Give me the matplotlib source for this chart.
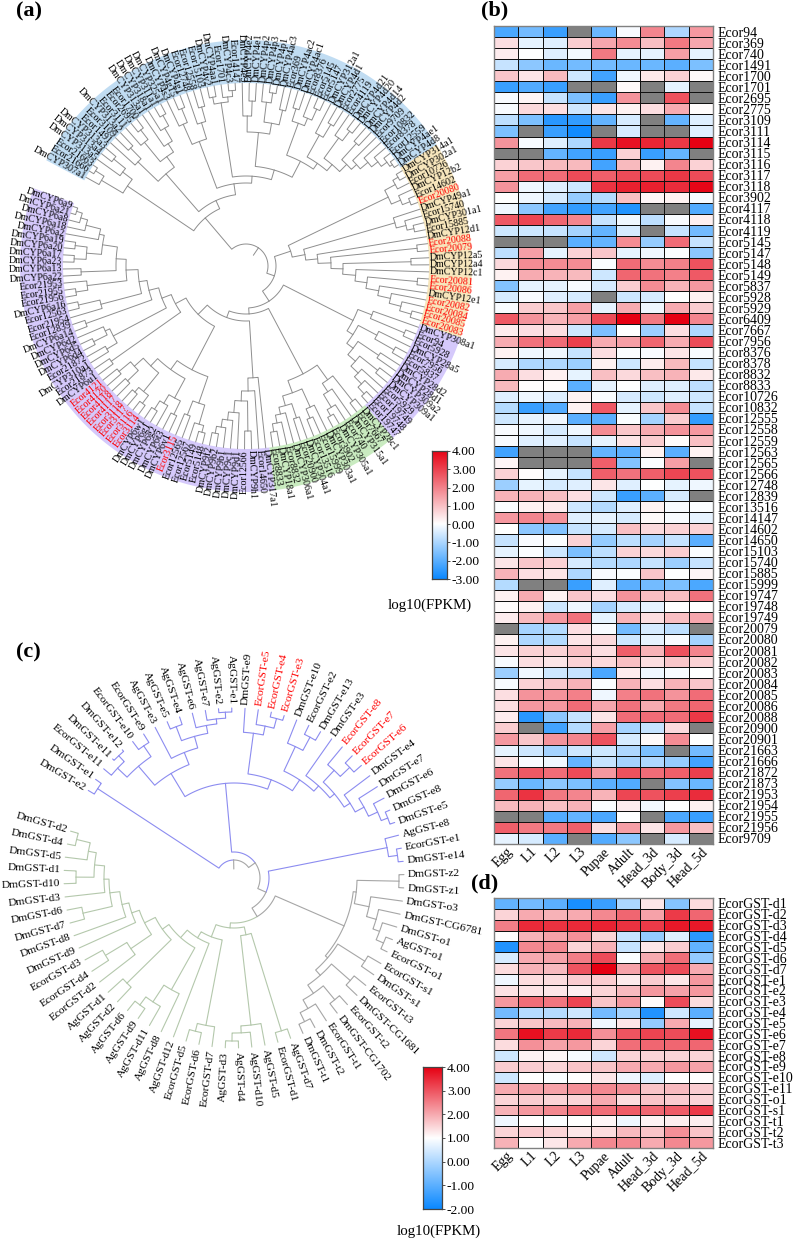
"""Phylogenetic trees of CYP / GST genes with their expression heatmaps."""
import numpy as np
import matplotlib
matplotlib.use('Agg')
import matplotlib.pyplot as plt
from matplotlib.collections import LineCollection
from matplotlib.colors import LinearSegmentedColormap, Normalize

plt.rcParams['font.family'] = ['Liberation Serif', 'DejaVu Serif']

N = np.nan
STAGES = ['Egg', 'L1', 'L2', 'L3', 'Pupae', 'Adult', 'Head_3d', 'Body_3d', 'Head_5d']

CYP_GENES = [
    'Ecor94', 'Ecor369', 'Ecor740', 'Ecor1491', 'Ecor1700', 'Ecor1701', 'Ecor2695', 'Ecor2775',
    'Ecor3109', 'Ecor3111', 'Ecor3114', 'Ecor3115', 'Ecor3116', 'Ecor3117', 'Ecor3118', 'Ecor3902',
    'Ecor4117', 'Ecor4118', 'Ecor4119', 'Ecor5145', 'Ecor5147', 'Ecor5148', 'Ecor5149', 'Ecor5837',
    'Ecor5928', 'Ecor5929', 'Ecor6409', 'Ecor7667', 'Ecor7956', 'Ecor8376', 'Ecor8378', 'Ecor8832',
    'Ecor8833', 'Ecor10726', 'Ecor10832', 'Ecor12555', 'Ecor12558', 'Ecor12559', 'Ecor12563',
    'Ecor12565', 'Ecor12566', 'Ecor12748', 'Ecor12839', 'Ecor13516', 'Ecor14147', 'Ecor14602',
    'Ecor14650', 'Ecor15103', 'Ecor15740', 'Ecor15885', 'Ecor15999', 'Ecor19747', 'Ecor19748',
    'Ecor19749', 'Ecor20079', 'Ecor20080', 'Ecor20081', 'Ecor20082', 'Ecor20083', 'Ecor20084',
    'Ecor20085', 'Ecor20086', 'Ecor20088', 'Ecor20900', 'Ecor20901', 'Ecor21663', 'Ecor21666',
    'Ecor21872', 'Ecor21873', 'Ecor21953', 'Ecor21954', 'Ecor21955', 'Ecor21956', 'Ecor9709',
]
CYP_FPKM = [
    [-2.2, -1.7, -2.4, N, -1.8, -0.1, 1.9, -1.0, 1.6],
    [0.5, -0.3, -0.4, 0.8, 1.4, 1.8, 1.0, 2.1, 1.4],
    [0.3, 0, -0.4, -0.15, 2.1, -0.3, -0.3, 1.5, -0.3],
    [-0.7, -1.4, -1.8, -1.7, -1.7, -1.8, -1.8, -2.0, -1.6],
    [0.9, 0.4, 1.1, -0.6, -2.3, -0.2, 0.35, 0.7, 0.1],
    [-2.4, -2.1, -2.4, N, N, 0.1, N, -0.3, N],
    [-0.1, 0.15, -0.7, -1.6, -2.4, 1.7, N, 2.7, N],
    [-0.1, 0.6, 0.5, -0.6, 0.4, 0.2, 0.5, 1.3, 0.05],
    [-0.8, -1.6, -2.6, -2.5, -1.9, -0.5, N, -1.9, -0.4],
    [-1.6, N, -2.4, -2.9, N, -0.5, N, N, -0.4],
    [1.7, -0.1, -0.4, -1.0, 3.1, 3.7, 3.4, 3.1, 4.0],
    [N, N, -1.9, -2.3, -2.4, 0.7, -2.4, -1.9, N],
    [0.7, 0.9, 1.1, 1.1, -2.3, 1.1, 0.2, 1.9, 0.7],
    [1.5, 2.3, 2.3, 2.8, 2.5, 2.8, 2.8, 3.1, 2.8],
    [1.7, -0.2, -0.4, -0.6, 3.2, 3.5, 3.5, 3.3, 3.9],
    [0, -0.2, -0.5, -1.3, -0.9, 1.0, 0.15, 0.2, -0.1],
    [-0.2, -1.4, -2.3, -2.5, -2.3, -2.7, N, N, -2.1],
    [2.6, 2.9, 2.4, 1.9, -0.7, -0.2, -0.8, -0.1, 0.25],
    [-0.6, -0.6, -0.7, -1.1, -1.9, -0.5, N, -0.7, -1.7],
    [N, N, N, -2.0, -1.9, 1.8, -1.3, 2.3, -0.7],
    [-0.8, 1.5, -0.3, 0.7, 0.9, -0.3, -0.2, -0.05, -1.4],
    [0.6, 1.8, 1.8, 1.8, -0.05, 2.3, 1.8, 2.0, 2.7],
    [0.2, 1.3, 1.2, 1.1, -0.6, 2.4, 2.2, 2.0, 2.6],
    [-1.5, -0.3, -0.3, -0.1, -0.5, 0.8, 1.8, 1.2, 1.6],
    [-0.5, -0.1, -0.4, -0.5, N, -0.6, -0.5, 0.0, 0.2],
    [-0.1, 0.8, 0.9, 1.5, -0.3, 1.3, -0.2, 1.3, 0.8],
    [2.6, 1.7, 1.2, 1.5, 2.8, 4, 2.1, 4, 1.9],
    [0.3, 0.5, 0.5, -0.6, -1.6, 0, -1.2, 0.5, -1.0],
    [1.3, 2.2, 2.3, 3.0, 1.3, 1.5, 2.4, 1.3, 2.8],
    [0.2, -0.2, -0.2, -0.7, 0.5, -0.05, -0.1, 0.4, -0.1],
    [-0.5, -1, -1, -1.2, 0.2, -0.6, 0.3, 1.1, -0.7],
    [1.3, 0.5, 0.25, -0.3, 1.0, 0.6, 1.0, 1.2, 0.35],
    [1.1, 0.05, 0.05, -2.0, -0.3, 0, -0.4, -0.4, -0.8],
    [-0.4, -0.2, -0.4, 0.2, -0.05, -0.5, -0.6, -0.4, -0.6],
    [-0.9, -2.4, -2.1, 0.2, 2.6, -0.3, 0.9, 1.8, -0.7],
    [-0.6, -0.3, -0.2, -2.0, -2.0, -0.05, -1.1, 0.8, -2.5],
    [-0.1, -0.2, -0.5, -0.2, 1.8, 0.9, 1.3, 1.7, 1.6],
    [-0.1, -0.4, -0.4, -0.7, -0.3, 0.4, 0.8, 0.05, 1.0],
    [-2.3, N, N, N, -1.9, -2.0, 0.2, -2.0, 0.2],
    [0.15, N, N, N, 2.5, -1.5, -0.05, 1.5, N],
    [0.7, 0.05, -0.3, -0.7, 2.5, 2.2, 2.5, 2.9, 2.7],
    [-1.2, -0.3, -0.5, -0.4, 0.4, -0.4, 0, -0.3, -0.2],
    [1.2, 1.2, 1.0, 0.5, -0.6, -2.4, -2.0, -0.5, N],
    [-0.05, 0.2, 0.3, -0.6, -0.9, -0.4, 0.2, -0.1, -0.05],
    [1.6, 1.9, 1.7, -0.4, -0.3, -0.5, 0.1, -0.1, -0.3],
    [0, -1.4, -1.5, -0.7, -0.5, 1.0, 0.6, 0.7, 0.7],
    [-0.7, -0.1, -0.05, 0.7, -1.3, -0.8, -1.1, -0.7, -2.0],
    [-0.3, -0.05, -0.6, -1.6, -0.8, 0.7, 0.6, 0.8, -0.05],
    [0.4, 0.9, 0.7, -0.5, -0.9, -1.0, -0.7, -1.2, -0.7],
    [1.2, 0.5, 0.4, -1.0, -0.1, -0.05, 0.9, 0.0, 0.15],
    [-0.9, N, N, -2.4, -0.4, -2.0, -1.7, -1.6, -2.2],
    [0.2, 1.3, 0.2, 0.9, 0.5, 1.7, 1.0, 1.0, 2.2],
    [0.05, 0.2, -0.6, -0.2, -1.1, -0.5, -0.3, 0, 0],
    [0.3, 1.1, 1.6, 2.2, -0.3, 1.2, 0.5, 1.0, 1.4],
    [N, -1.1, -0.9, 0.5, -0.1, -1.7, -0.5, -0.8, N],
    [0.2, -1.0, -0.9, 0.4, 0.6, -0.6, -0.3, -0.1, -1.1],
    [0.4, 0.7, 0.7, 1.0, 0.5, 2.5, 1.2, 2.7, 1.9],
    [-0.1, 0.5, 0.4, 0.7, 0.6, 1.0, 0.5, 0.9, 0.7],
    [-1.2, -0.2, -0.6, -0.7, -2.2, 0.3, -0.2, -0.1, 0],
    [-0.1, 0.7, 0.9, 1.2, -0.05, 1.2, 0.5, 1.2, 0.9],
    [0.5, 1.7, 1.7, 2.0, -0.2, 2.0, 2.2, 1.7, 2.3],
    [0.5, 1.6, 1.6, 2.3, 1.4, 2.2, 1.3, 2.1, 2.4],
    [0.3, -2.6, -1.4, -0.7, 0.4, 2.3, 2.3, 2.3, 3.1],
    [0.8, N, -2.3, -0.9, 1.5, -1.1, -0.7, 0.6, N],
    [1.6, 0.9, 1.7, 1.9, 2.7, -0.5, 0.1, 1.8, 0],
    [-0.3, -0.6, -1.1, -0.6, -0.6, -1.0, -1.6, N, -1.7],
    [0.4, -0.1, -0.2, -1.9, -0.7, -1.1, -1.0, -1.3, -2.3],
    [2.2, 2.6, 2.3, 2.8, 1.6, 2.7, 2.3, 2.5, 3.0],
    [-1.3, -1.8, -1.4, -1.6, -2.0, -2.1, N, -1.5, -1.8],
    [2.4, 3.2, 2.1, 1.9, 1.2, 2.9, 2.7, 3.0, 3.3],
    [1.1, 1.2, 1.0, 1.2, -0.05, 0.3, -0.15, 0, 0.2],
    [N, N, -2.1, -1.9, -2.2, 0, N, -2.2, -2.4],
    [2.5, 2.1, 2.1, 2.5, 0.5, 1.5, 0.4, 1.6, 1.0],
    [-0.3, -0.5, -2.0, N, -2.1, -1.4, N, -0.5, N],
]

GST_GENES = [
    'EcorGST-d1', 'EcorGST-d2', 'EcorGST-d3', 'EcorGST-d4', 'EcorGST-d5', 'EcorGST-d6', 'EcorGST-d7',
    'EcorGST-e1', 'EcorGST-e2', 'EcorGST-e3', 'EcorGST-e4', 'EcorGST-e5', 'EcorGST-e6', 'EcorGST-e7',
    'EcorGST-e8', 'EcorGST-e9', 'EcorGST-e10', 'EcorGST-e11', 'EcorGST-o1', 'EcorGST-s1',
    'EcorGST-t1', 'EcorGST-t2', 'EcorGST-t3',
]
GST_FPKM = [
    [-0.9, -0.7, -1.0, -1.8, -1.4, 0.0, 1.3, -0.5, 1.4],
    [1.5, 2.0, 1.9, 2.0, 2.4, 2.8, 2.1, 3.3, 2.8],
    [2.5, 3.5, 3.4, 3.5, 3.6, 3.4, 3.3, 3.7, 3.7],
    [1.0, 1.9, 2.1, 2.3, 1.5, 0.3, -0.3, 0.6, -1.6],
    [-1.7, 2.4, 2.4, 1.5, 1.9, 0.3, 1.3, 1.6, -0.9],
    [0.5, 2.0, 2.1, 2.5, 3.1, 0.95, 2.0, 2.7, -0.3],
    [1.4, 1.9, 1.8, 3.0, 4.0, 2.1, 3.0, 3.1, 2.0],
    [0.8, 1.4, 1.4, 1.6, 1.6, 1.25, 1.6, 1.3, 2.2],
    [1.35, 1.35, 1.3, 1.2, 1.5, 1.8, 2.2, 2.1, 2.2],
    [2.2, 2.7, 2.6, 3.2, 1.7, 2.2, 1.05, 3.1, 1.4],
    [-0.7, 0.1, 0.1, 0.4, -0.7, -0.1, -1.7, 0.4, -1.0],
    [1.5, 1.7, 1.8, 1.9, 0.8, 1.3, -0.3, 2.0, 0.7],
    [2.6, 3.8, 3.3, 3.5, 2.3, 3.0, 3.2, 3.1, 3.8],
    [1.4, 2.3, 2.1, 2.2, 1.5, 2.7, 2.8, 2.8, 2.8],
    [0.4, 1.15, 1.1, 0.9, 0.4, 1.5, 1.5, 1.5, 1.5],
    [1.6, 1.6, 1.5, 1.7, 1.7, 2.0, 2.0, 2.2, 2.1],
    [0.4, 1.0, 0.95, 1.0, 1.3, 0.8, 0.6, 1.0, 1.0],
    [2.0, 2.1, 2.1, 2.3, 2.4, 2.3, 1.7, 1.8, 1.6],
    [1.5, 1.6, 1.5, 1.5, 2.0, 1.4, 1.7, 1.6, 1.5],
    [1.9, 2.2, 2.4, 2.7, 2.7, 2.9, 2.8, 2.9, 3.3],
    [0.8, 1.0, 0.95, 1.0, 1.1, 0.8, 1.15, 1.2, 1.2],
    [1.5, 1.6, 1.5, 1.3, 1.4, 1.8, 1.7, 2.3, 1.7],
    [1.9, 1.0, 1.3, 2.0, 2.4, 2.4, 2.0, 2.4, 2.2],
]

# trees: (node depth, child, child, ...), a leaf is its gene name; children run clockwise
CYP_BLUE = (63,
    (143, (168, 'DmCYP307a1', (178, 'Ecor21666', 'Ecor21663')),
          (155, 'DmCYP313a5', (170, 'DmCYP313a4', 'DmCYP313a3'))),
    (72,
     (122, (150, 'Ecor1491', (165, 'Ecor3109', 'DmCYP313a2')),
           (135, (160, 'Ecor3111', (172, 'Ecor2695', 'Ecor1700')),
                 (145, 'DmCYP313a1', (160, 'DmCYP318a1', (172, 'DmCYP311a1', 'DmCYP325a1'))))),
     (83,
      (133, (155, 'DmCYP4s3', (170, 'DmCYP4g15', 'DmCYP4g1')),
            (150, 'Ecor12748', (165, 'Ecor12558', 'Ecor15103'))),
      (90,
       (165, (172, 'DmCYP4v2', 'DmCYP4aa1'), (170, 'Ecor1701', (176, 'DmCYP4c3', 'Ecor14147'))),
       (100,
        (134, (150, 'DmCYP4e3', (165, 'DmCYP4e2', 'DmCYP4e1')),
              (145, (165, 'DmCYP4p2', (175, 'DmCYP4p3', 'DmCYP4p1')), (160, 'DmCYP4ac3', 'Ecor369'))),
        (118, (152, (165, 'DmCYP4ac2', 'DmCYP4ac1'), (160, 'Ecor8376', (172, 'Ecor5145', 'Ecor5147'))),
              (125, (150, 'DmCYP312a1', (165, 'DmCYP4d1', 'Ecor2775')),
                    (133, (158, 'Ecor4119', (170, 'DmCYP4d21', 'DmCYP4d20')),
                          (143, (165, 'DmCYP4d14', 'DmCYP4d2'),
                                (150, 'Ecor9709', (160, 'Ecor10832', (168, 'Ecor8378',
                                      (175, 'Ecor12559', (178, 'DmCYP4ae1', 'DmCYP4d8'))))))))))))))
CYP_YELLOW = (47,
    (158, (170, (176, 'DmCYP314a1', 'DmCYP302a1'), 'Ecor10726'),
          (168, 'DmCYP12b2', (176, 'Ecor14602', 'Ecor20080'))),
    (60,
     (155, 'DmCYP49a1', (165, 'Ecor15740', (172, 'DmCYP301a1', 'Ecor15885'))),
     (72, 'DmCYP12d1',
      (85, (172, 'Ecor20088', 'Ecor20079'),
       (97, (165, 'DmCYP12a5', 'DmCYP12a4'),
        (110, 'DmCYP12c1',
         (122, (172, 'Ecor20081', 'Ecor20086'),
          (135, 'DmCYP12e1',
           (148, 'Ecor20082', (160, 'Ecor20084', (172, 'Ecor20085', 'Ecor20083')))))))))))
CYP_LILAC = (120,
    (135, 'DmCYP308a1', (172, 'Ecor94', 'Ecor5928')),
    (127, (148, 'DmCYP28a5', (170, 'Ecor7956', 'Ecor5837')),
          (135, (160, 'DmCYP28d2', 'DmCYP28d1'),
                (145, (168, 'DmCYP309a2', 'DmCYP309a1'),
                      (155, 'Ecor5929', (165, 'Ecor19749', (174, 'Ecor19748', 'Ecor19747')))))))
CYP_GREEN = (122,
    (140, (172, 'DmCYP28c1', 'Ecor7667'),
          (150, 'DmCYP315a1', (165, 'Ecor740', (172, 'DmCYP305a1', 'Ecor3902')))),
    (135, (155, 'DmCYP303a1', (165, 'Ecor15999', 'Ecor13516')),
          (145, (160, 'DmCYP304a1', 'Ecor20900'),
                (152, 'DmCYP306a1', (160, 'Ecor8832', (168, 'DmCYP18a1', 'Ecor8833'))))))
CYP_PURPLE = (55,
    (112, 'DmCYP317a1', (125, 'Ecor14650', (135, (165, 'DmCYP9h1', 'Ecor12566'),
        (147, 'DmCYP9d1', (155, 'DmCYP9c1', (163, 'DmCYP9b1', (170, 'DmCYP9b2', 'DmCYP9f2'))))))),
    (68,
     (117,
      (145, (165, (172, 'Ecor5148', 'Ecor5149'), 'Ecor12567'), (160, 'Ecor12565', 'Ecor3115')),
      (128,
       (150, (165, 'DmCYP6v1', 'DmCYP6t3'), (160, 'DmCYP6g2', (170, 'DmCYP6g1', 'DmCYP6w1'))),
       (138,
        (162, (172, 'Ecor3114', 'Ecor3116'), (168, 'Ecor3117', 'Ecor3118')),
        (150, (165, 'Ecor4117', 'Ecor4118'), (165, 'Ecor4120', 'Ecor4121'))))),
     (80, (165, 'DmCYP6u1', 'Ecor21873'),
      (90, (150, (162, 'DmCYP310a1', 'Ecor21872'), (155, (170, 'DmCYP6d4', 'DmCYP6d5'), 'DmCYP6d2')),
       (100, (170, 'DmCYP6a14', 'Ecor12839'),
        (108, (150, 'Ecor21954', (172, 'Ecor12563', 'DmCYP6a16')),
         (120, (160, (172, 'Ecor21956', 'Ecor21955'), 'Ecor21953'),
          (130, (165, 'DmCYP6a22', 'DmCYP6a13'),
           (145, (160, (172, 'DmCYP6a23', 'DmCYP6a17'), (172, 'DmCYP6a20', 'DmCYP6a19')),
            (150, 'DmCYP6a2', (165, 'DmCYP6a18', (172, 'DmCYP6a8', (178, 'DmCYP6a21', 'DmCYP6a9')))))))))))))
CYP_TREE = (22, CYP_BLUE, (30, CYP_YELLOW, (42, CYP_LILAC, (48, CYP_GREEN, CYP_PURPLE))))
CYP_CLADES = [(CYP_BLUE, '#c0dcf2'), (CYP_YELLOW, '#f7e6bc'), (CYP_LILAC, '#d5c9fb'),
              (CYP_GREEN, '#c9ebc0'), (CYP_PURPLE, '#d5c9fb')]
CYP_RED = ['Ecor20080', 'Ecor20088', 'Ecor20079', 'Ecor20081', 'Ecor20086', 'Ecor20082', 'Ecor20084',
           'Ecor20085', 'Ecor20083', 'Ecor3115', 'Ecor3114', 'Ecor3116', 'Ecor3117', 'Ecor3118',
           'Ecor4117', 'Ecor4118', 'Ecor4120', 'Ecor4121']

GST_EPSILON_A = (95,
    (122,
     (147, (160, 'EcorGST-e11', (168, 'DmGST-e11', 'DmGST-e12')), (160, 'EcorGST-e10', 'EcorGST-e9')),
     (135, 'AgGST-e3',
      (147, (162, 'AgGST-e5', 'AgGST-e4'),
       (155, 'AgGST-e6', (160, 'AgGST-e7', (166, 'AgGST-e2', 'AgGST-e1')))))),
    (105,
     (146, 'DmGST-e9', (155, 'EcorGST-e5', (165, 'EcorGST-e4', 'EcorGST-e3'))),
     (118,
      (145, 'DmGST-e10', (160, 'EcorGST-e2', 'DmGST-e13')),
      (125, 'DmGST-e3',
       (131,
        (147, 'EcorGST-e8', (160, 'EcorGST-e7', 'EcorGST-e6')),
        (138, 'DmGST-e4', (148, 'DmGST-e7', (158, 'DmGST-e6', (165, 'DmGST-e8', 'DmGST-e5')))))))))
GST_EPSILON_B = (163, 'DmGST-e2', 'DmGST-e1')
GST_EPSILON_C = (156, 'AgGST-e8', (165, 'EcorGST-e1', 'DmGST-e14'))
GST_OTHER = (120,
    (123, (165, 'DmGST-z2', 'DmGST-z1'),
     (138, 'DmGST-o3', (148, 'DmGST-CG6781', (155, 'DmGST-o1', (163, 'AgGST-o1', 'EcorGST-o1'))))),
    (123, (155, 'EcorGST-s1', 'DmGST-s1'),
     (130, (155, 'EcorGST-t3', 'DmGST-CG1681'),
      (140, (158, 'EcorGST-t2', 'DmGST-CG1702'),
       (150, 'EcorGST-t1', (160, 'DmGST-t2', 'DmGST-t1'))))))
GST_DELTA = (50,
    (58, (160, 'AgGST-d7', 'EcorGST-d1'),
     (148, 'AgGST-d5', (155, 'AgGST-d10', (163, 'AgGST-d4', 'AgGST-d3')))),
    (63,
     (150, 'EcorGST-d7', (158, 'EcorGST-d6', 'EcorGST-d5')),
     (70, 'AgGST-d12',
      (80, (128, 'AgGST-d8', (148, 'AgGST-d11', (158, 'AgGST-d9', 'AgGST-d6'))),
       (88, (150, 'AgGST-d2', 'AgGST-d1'),
        (100, (125, 'EcorGST-d2', (150, 'EcorGST-d4', 'EcorGST-d3')),
         (108, 'DmGST-d9',
          (115, 'DmGST-d8',
           (125, (155, 'DmGST-d7', 'DmGST-d6'),
            (130, 'DmGST-d3',
             (140, (158, 'DmGST-d10', 'DmGST-d1'),
              (148, 'DmGST-d5', (162, 'DmGST-d4', 'DmGST-d2')))))))))))))
GST_TREE = (18, GST_EPSILON_B, (26, GST_EPSILON_A, (35, GST_EPSILON_C, (45, GST_OTHER, GST_DELTA))))
GST_RED = ['EcorGST-e5', 'EcorGST-e4', 'EcorGST-e3', 'EcorGST-e8', 'EcorGST-e7', 'EcorGST-e6']

W, H = 796, 1240


def leaves(node):
    if isinstance(node, str):
        return [node]
    return [name for kid in node[1:] for name in leaves(kid)]


def polar(cx, cy, r, deg):
    t = np.radians(deg)
    return cx + r * np.cos(t), cy - r * np.sin(t)


def draw_tree(ax, tree, centre, r_leaf, start, stop, colour_of, lw=0.7):
    names = leaves(tree)
    angles = dict(zip(names, np.linspace(start, stop, len(names))))
    segs, cols = [], []

    def place(node):
        if isinstance(node, str):
            return angles[node], r_leaf
        r = node[0]
        pos = [place(kid) for kid in node[1:]]
        a = (pos[0][0] + pos[-1][0]) / 2
        for kid, (ak, rk) in zip(node[1:], pos):
            arc = np.linspace(a, ak, 16)
            line = [polar(*centre, r, x) for x in arc] + [polar(*centre, rk, ak)]
            segs.append(line)
            cols.append(colour_of(kid))
        return a, r

    a0, r0 = place(tree)
    segs.append([polar(*centre, r0, a0), polar(*centre, r0 - 9, a0)])
    cols.append(colour_of(tree))
    ax.add_collection(LineCollection(segs, colors=cols, linewidths=lw, zorder=2, capstyle='round'))
    return angles


def draw_labels(ax, angles, centre, r_text, red, size):
    for name, a in angles.items():
        x, y = polar(*centre, r_text, a)
        flip = np.cos(np.radians(a)) < 0
        ax.text(x, y, name, rotation=a + 180 if flip else a, rotation_mode='anchor',
                ha='right' if flip else 'left', va='center', fontsize=size,
                color='#ff0000' if name in red else 'black', zorder=3)


def draw_heat(rect, data, genes, cmap, norm):
    ax = fig.add_axes([rect[0] / W, 1 - rect[3] / H, (rect[2] - rect[0]) / W, (rect[3] - rect[1]) / H])
    arr = np.ma.masked_invalid(np.array(data, dtype=float))
    ax.set_facecolor('#808080')
    ax.pcolormesh(arr, cmap=cmap, norm=norm, edgecolors='#111111', linewidth=0.7)
    ax.invert_yaxis()
    ax.yaxis.tick_right()
    ax.set_yticks(np.arange(len(genes)) + 0.5, genes, fontsize=10)
    ax.set_xticks(np.arange(len(STAGES)) + 0.5, STAGES, fontsize=10, rotation=45,
                  ha='right', va='top', rotation_mode='anchor')
    ax.tick_params(axis='y', length=0, pad=3.5)
    ax.tick_params(axis='x', length=0, pad=1)
    for s in ax.spines.values():
        s.set_color('#808080')
        s.set_linewidth(1)
    return ax


def draw_bar(rect, cmap, vmin, vmax, ticks, label_xy):
    ax = fig.add_axes([rect[0] / W, 1 - rect[3] / H, (rect[2] - rect[0]) / W, (rect[3] - rect[1]) / H])
    grad = np.linspace(vmax, vmin, 256)[:, None]
    ax.imshow(grad, aspect='auto', cmap=cmap, vmin=vmin, vmax=vmax, extent=[0, 1, vmin, vmax])
    ax.set_xticks([])
    ax.yaxis.tick_right()
    ax.set_yticks(ticks, [f'{t:.2f}' for t in ticks], fontsize=9.7)
    ax.tick_params(length=2, width=0.6, pad=1.5, color='#333333')
    for s in ax.spines.values():
        s.set_color('#444444')
        s.set_linewidth(0.9)
    canvas.text(*label_xy, 'log10(FPKM)', fontsize=10.7, ha='center', va='center')


fig = plt.figure(figsize=(W / 100, H / 100), dpi=100)
canvas = fig.add_axes([0, 0, 1, 1])
canvas.set_xlim(0, W)
canvas.set_ylim(H, 0)
canvas.axis('off')

blue, red = '#0a88ff', '#e60012'
cmap_cyp = LinearSegmentedColormap.from_list('cyp', [(0, blue), (3 / 7, 'white'), (1, red)])
cmap_gst = LinearSegmentedColormap.from_list('gst', [(0, blue), (0.5, 'white'), (1, red)])

# (a) CYP tree with coloured ring
centre_a = (246, 266)
n_a = len(leaves(CYP_TREE))
angles_a = draw_tree(canvas, CYP_TREE, centre_a, 183, 151, -199, lambda node: '#8e8e8e')
half = 350 / (n_a - 1) / 2
for clade, colour in CYP_CLADES:
    names = leaves(clade)
    a = np.linspace(angles_a[names[0]] + half, angles_a[names[-1]] - half, 80)
    outer = [polar(*centre_a, 226, x) for x in a]
    inner = [polar(*centre_a, 183, x) for x in a[::-1]]
    xs, ys = zip(*(outer + inner))
    canvas.fill(xs, ys, color=colour, lw=0, zorder=1)
draw_labels(canvas, angles_a, centre_a, 184, CYP_RED, 7.2)

# (c) GST tree
blue_set = set(leaves(GST_EPSILON_A) + leaves(GST_EPSILON_B) + leaves(GST_EPSILON_C))
green_set = set(leaves(GST_DELTA))


def gst_colour(node):
    names = set(leaves(node))
    if names <= blue_set:
        return '#8c8cf0'
    if names <= green_set:
        return '#b4c8ac'
    return '#a6a6a6'


centre_c = (234, 878)
angles_c = draw_tree(canvas, GST_TREE, centre_c, 170, 149, -196, gst_colour, lw=0.8)
draw_labels(canvas, angles_c, centre_c, 174, GST_RED, 8.2)

# (b) and (d) heatmaps
draw_heat((494, 26, 713, 844), CYP_FPKM, CYP_GENES, cmap_cyp, Normalize(-3, 4))
draw_heat((494, 898, 713, 1148), GST_FPKM, GST_GENES, cmap_gst, Normalize(-2, 4))

draw_bar((432, 451, 447, 579), cmap_cyp, -3, 4, [-3, -2, -1, 0, 1, 2, 3, 4], (430, 605))
draw_bar((423, 1067, 442, 1209), cmap_gst, -2, 4, [-2, -1, 0, 1, 2, 3, 4], (439, 1231))

for text, x, y in [('(a)', 16, 11), ('(b)', 481, 10), ('(c)', 16, 652), ('(d)', 471, 883)]:
    canvas.text(x, y, text, fontsize=16, fontweight='bold', ha='left', va='center')

fig.savefig('out.png', dpi=100)
